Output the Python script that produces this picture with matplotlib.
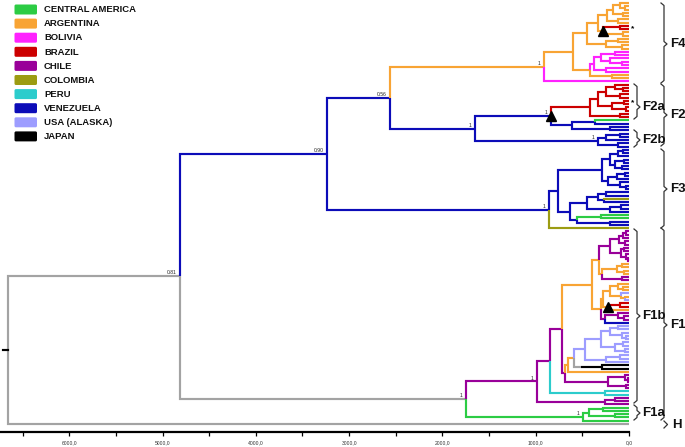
import matplotlib
matplotlib.use('Agg')
import matplotlib.pyplot as plt
from matplotlib.patches import FancyBboxPatch

plt.rcParams['font.family'] = ['Liberation Sans', 'DejaVu Sans']

# ---------------- data ----------------
COUNTRIES = ['CENTRAL AMERICA', 'ARGENTINA', 'BOLIVIA', 'BRAZIL', 'CHILE',
             'COLOMBIA', 'PERU', 'VENEZUELA', 'USA (ALASKA)', 'JAPAN']
CODES = ['C', 'A', 'B', 'R', 'L', 'O', 'P', 'V', 'U', 'J']
COUNTRY_COLORS = ['#2ccc44', '#f8a434', '#ff22ff', '#cc0000', '#990099',
                  '#9c9c12', '#2ccccc', '#0c0cb8', '#9d9dff', '#000000']
GRAY = '#a3a3a3'

AXIS_MAJOR = [6000, 5000, 4000, 3000, 2000, 1000, 0]
AXIS_MINOR = [6500, 5500, 4500, 3500, 2500, 1500, 500]


def N(age, col, kids, support=None, tri=False):
    return {'age': age, 'col': col, 'kids': kids, 'sup': support, 'tri': tri}


# clade F4
F4_X1A = N(240, 'A', [N(170, 'A', [N(100, 'A', ['A', N(40, 'A', ['A', 'A'])]),
                                    N(60, 'A', ['A', 'A'])]),
                       N(120, 'A', ['A', 'A'])])
F4_X1B = N(280, 'A', [N(100, 'R', ['R', 'R']), N(60, 'A', ['A', 'A'])], tri=True)
F4_X2 = N(250, 'A', [N(120, 'A', ['A', 'A']), N(70, 'A', ['A', 'A'])])
F4_BOL = N(380, 'B', [N(300, 'B', [N(150, 'B', ['B', 'B']),
                                   N(200, 'B', ['B', N(80, 'B', ['B', 'B'])])]),
                      N(250, 'B', ['B', 'B'])])
CLADE_F4 = N(911, 'A', [N(600, 'A', [N(450, 'A', [N(330, 'A', [F4_X1A, F4_X1B]), F4_X2]),
                                     N(418, 'A', [F4_BOL, N(180, 'A', ['A', 'A'])])]),
                        'B'], '1')

# clade F2
F2A_RED = N(418, 'R', [N(330, 'R', [N(250, 'R', [N(150, 'R', ['R', N(60, 'R', ['R', 'R'])]),
                                                 N(100, 'R', ['R', 'R'])]),
                                    N(180, 'R', [N(50, 'R', ['R', 'R']), N(30, 'R', ['R', 'R'])])]),
                       N(100, 'R', ['R', 'R'])])
F2A_BLUE = N(611, 'V', [N(365, 'V', ['C', 'V']), N(200, 'V', ['V', 'V'])])
CLADE_F2A = N(836, 'V', [F2A_RED, F2A_BLUE], '1', tri=True)
CLADE_F2B = N(332, 'V', [N(250, 'V', [N(100, 'V', ['V', 'V']), 'V']),
                         N(120, 'V', ['V', 'V'])], '1')
CLADE_F2 = N(1650, 'V', [CLADE_F2A, CLADE_F2B], '1')

# clade F3
F3_UP = N(289, 'V', [N(200, 'V', [N(120, 'V', [N(60, 'V', ['V', 'V']), 'V']),
                                  N(150, 'V', [N(50, 'V', ['V', 'V']), N(80, 'V', ['V', 'V'])])]),
                     N(230, 'V', [N(130, 'V', [N(40, 'V', ['V', 'V']), 'V']),
                                  N(100, 'V', ['V', N(30, 'V', ['V', 'V'])])])])
F3_LOW = N(632, 'V', [N(450, 'V', [N(330, 'V', [N(250, 'V', ['V', 'V']), N(270, 'V', ['O', 'V'])]),
                                   N(200, 'V', [N(90, 'V', ['V', 'V']), 'V'])]),
                      N(560, 'V', [N(300, 'C', ['C', 'C']), N(200, 'V', ['V', 'V'])])])
CLADE_F3 = N(857, 'V', [N(761, 'V', [F3_UP, F3_LOW]), 'O'], '1')

# clade F1
F1_P1 = N(204, 'L', [N(110, 'L', [N(60, 'L', [N(30, 'L', ['L', 'L']), 'L']), N(40, 'L', ['L', 'L'])]),
                     N(90, 'L', [N(50, 'L', ['L', 'L']), N(30, 'L', ['L', N(15, 'L', ['L', 'L'])])])])
F1_T1B = N(290, 'A', [N(130, 'A', [N(70, 'A', ['A', 'A']), N(50, 'A', ['A', 'A'])]),
                      N(80, 'L', ['L', 'L'])])
F1_T2A = N(280, 'A', [N(200, 'A', [N(120, 'A', ['A', N(60, 'A', ['A', 'A'])]),
                                   N(90, 'A', ['U', N(40, 'A', ['A', 'U'])])]),
                      N(230, 'A', [N(100, 'R', ['R', 'R']), 'A'], tri=True)])
F1_P3 = N(257, 'L', [N(120, 'L', ['L', N(50, 'L', ['L', 'L'])]), 'V'])
F1_ORANGE = N(397, 'A', [N(322, 'A', [F1_P1, F1_T1B]), N(300, 'A', [F1_T2A, F1_P3])])
F1_USA = N(472, 'U', [N(300, 'U', [N(200, 'U', [N(120, 'U', ['U', 'U']),
                                                N(80, 'U', ['U', N(30, 'U', ['U', 'U'])])]),
                                   N(150, 'U', [N(60, 'U', ['U', 'U']), N(40, 'U', ['U', 'U'])])]),
                      N(250, 'U', [N(100, 'U', ['U', 'U']), 'U'])])
F1_JAPAN = N(510, 'G', [N(290, 'J', ['J', 'J'])])
F1_LB = N(654, 'A', [N(590, 'A', [F1_USA, F1_JAPAN]), 'A'])
F1_PD = N(225, 'L', [N(40, 'L', ['L', N(15, 'L', ['L', 'L'])]), N(30, 'L', ['L', 'L'])])
F1_PERU = N(257, 'P', ['P', 'P'])
F1_PC = N(257, 'L', [N(150, 'L', ['L', 'L']), 'L'])
CLADE_F1B = N(986, 'L', [N(847, 'L', [N(718, 'L', [F1_ORANGE, N(686, 'L', [F1_LB, F1_PD])]),
                                      F1_PERU]),
                         F1_PC], '1')
CLADE_F1A = N(492, 'C', [N(430, 'C', [N(280, 'C', ['C', 'C']), N(150, 'C', ['C', 'C'])]), 'C'], '1')
CLADE_F1 = N(1750, 'G', [CLADE_F1B, CLADE_F1A], '1')

# backbone
BACKBONE = N(6656, 'G', [
    N(4812, 'G', [
        N(3237, 'V', [
            N(2562, 'V', [CLADE_F4, CLADE_F2], '0.56'),
            CLADE_F3], '0.90'),
        CLADE_F1], '0.81'),
    'G'])

# ---------------- layout helpers (pixel geometry) ----------------
W, H = 685, 447
X0_PX = 629.0          # pixel of age 0
PX_PER_YEAR = 0.0933
TOP_LEAF_PX, BOTTOM_LEAF_PX = 3.0, 424.0
AXIS_PX = 432.0

colmap = dict(zip(CODES, COUNTRY_COLORS))
colmap['G'] = GRAY


def age_of_px(px):
    return (X0_PX - px) / PX_PER_YEAR


counter = [0]


def place(node):
    if isinstance(node, str):
        y = counter[0]
        counter[0] += 1
        return {'age': 0.0, 'col': node, 'y': y, 'kids': [], 'sup': None, 'tri': False}
    kids = [place(k) for k in node['kids']]
    out = dict(node)
    out['kids'] = kids
    out['y'] = (kids[0]['y'] + kids[-1]['y']) / 2.0
    return out


tree = place(BACKBONE)
n_leaves = counter[0]
spacing = (BOTTOM_LEAF_PX - TOP_LEAF_PX) / (n_leaves - 1)


def idx_of_px(py):
    return (py - TOP_LEAF_PX) / spacing


fig = plt.figure(figsize=(W / 100, H / 100), dpi=100)
ax = fig.add_axes([0, (H - AXIS_PX) / H, 1, AXIS_PX / H])
ax.set_xlim(age_of_px(0), age_of_px(W))
ax.set_ylim(idx_of_px(AXIS_PX), idx_of_px(0))

LW = 1.55


def draw(n):
    for k in n['kids']:
        ax.plot([n['age'], n['age'], k['age']], [n['y'], k['y'], k['y']],
                color=colmap[k['col']], lw=LW, solid_joinstyle='miter',
                solid_capstyle='butt', zorder=2)
        draw(k)
    if n['sup']:
        ax.annotate(n['sup'], (n['age'], n['y']), xytext=(-2.5, 0.6),
                    textcoords='offset points', ha='right', va='bottom',
                    fontsize=3.6, color='#222222', zorder=4)
    if n['tri']:
        ax.plot([n['age']], [n['y']], marker='^', ms=6.5, color='black',
                mec='black', zorder=5, ls='none')


draw(tree)
# root stub
ax.plot([tree['age'] + 55, tree['age']], [tree['y'], tree['y']], color='black', lw=LW)

# axis
for s in ['top', 'left', 'right']:
    ax.spines[s].set_visible(False)
ax.spines['bottom'].set_bounds(age_of_px(0), 0)
ax.spines['bottom'].set_linewidth(1.6)
ax.set_yticks([])
ax.set_xticks(AXIS_MAJOR)
ax.set_xticks(AXIS_MINOR, minor=True)
ax.set_xticklabels([f"{v:.1f}".replace('.', ',') for v in AXIS_MAJOR])
ax.tick_params(axis='x', which='major', direction='out', length=3, width=0.9,
               labelsize=3.6, pad=3, labelcolor='#333333')
ax.tick_params(axis='x', which='minor', direction='out', length=3, width=0.9)
ax.patch.set_alpha(0)

# overlay in pixel coordinates for legend and annotations
ov = fig.add_axes([0, 0, 1, 1])
ov.set_xlim(0, W)
ov.set_ylim(H, 0)
ov.axis('off')
ov.patch.set_alpha(0)

for k, (name, col) in enumerate(zip(COUNTRIES, COUNTRY_COLORS)):
    yc = 9.5 + 14.1 * k
    ov.add_patch(FancyBboxPatch((14.5, yc - 5), 22.5, 10,
                                boxstyle='round,pad=0,rounding_size=1.5',
                                fc=col, ec='none'))
    ov.text(44, yc + 0.3, name, fontsize=6.8, fontweight='bold', va='center',
            ha='left', color='#111111')


def brace(x, y0, y1, ym):
    ov.plot([x - 3, x, x, x + 3, x, x, x - 3],
            [y0, y0 + 2.5, ym - 2.5, ym, ym + 2.5, y1 - 2.5, y1],
            color='#333333', lw=0.9, solid_joinstyle='round')


BRACES = [('F4', 664, 3, 83, 44, 670), ('F2a', 637, 84, 119, 107, 642),
          ('F2', 664, 84, 146, 115, 670), ('F2b', 637, 130, 147, 140, 642),
          ('F3', 664, 149, 228, 189, 670), ('F1b', 637, 229, 403, 316, 642),
          ('F1', 664, 228, 420, 325, 670), ('F1a', 637, 405, 420, 413, 642)]
for lab, x, y0, y1, ym, tx in BRACES:
    brace(x, y0, y1, ym)
    ov.text(tx, ym, lab, fontsize=9.5, fontweight='bold', va='center', ha='left',
            color='#111111')
ov.plot([664, 667.5, 664], [421, 424.5, 428], color='#333333', lw=0.9)
ov.text(672, 425.5, 'H', fontsize=9.5, fontweight='bold', va='center', ha='left',
        color='#111111')

# asterisks
ov.text(631, 29, '*', fontsize=6, fontweight='bold', ha='left', va='center')
ov.text(631, 103, '*', fontsize=6, fontweight='bold', ha='left', va='center')

fig.savefig('out.png', dpi=100)
